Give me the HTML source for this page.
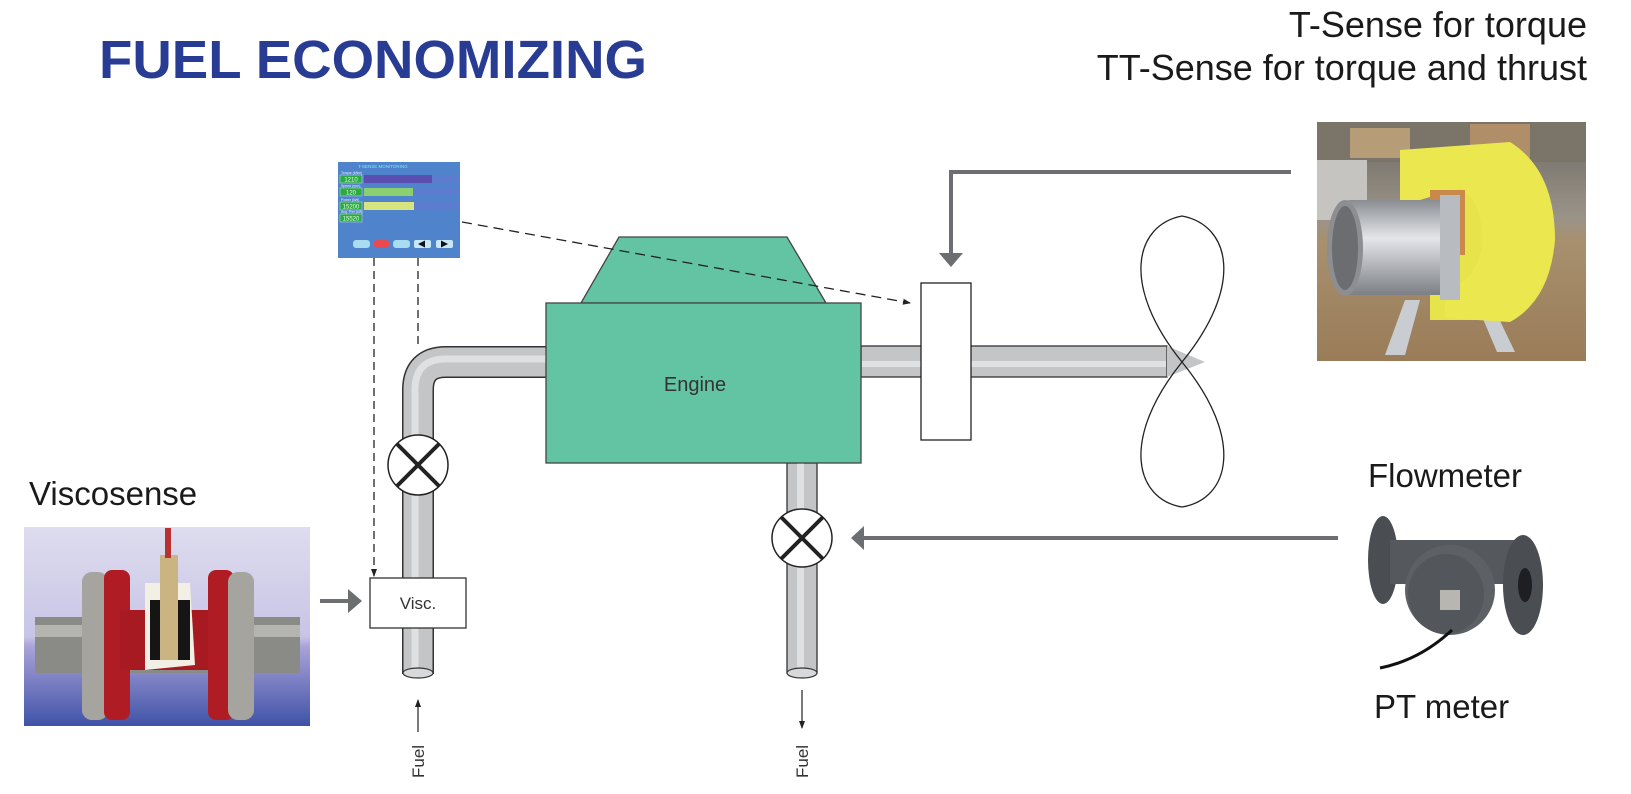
<!DOCTYPE html>
<html><head><meta charset="utf-8"><style>
html,body{margin:0;padding:0;background:#fff;}
svg{display:block;}
text{font-family:"Liberation Sans",sans-serif;}
</style></head><body>
<svg width="1631" height="794" viewBox="0 0 1631 794" xmlns="http://www.w3.org/2000/svg">
<defs>
<linearGradient id="vbg" x1="0" y1="0" x2="0" y2="1">
<stop offset="0" stop-color="#dedcee"/><stop offset="0.55" stop-color="#c8c4e6"/><stop offset="0.6" stop-color="#a9a3d8"/><stop offset="1" stop-color="#3f52a8"/></linearGradient>
<linearGradient id="tbg" x1="0" y1="0" x2="0" y2="1">
<stop offset="0" stop-color="#6d6a62"/><stop offset="0.4" stop-color="#9a9388"/><stop offset="0.5" stop-color="#a8906e"/><stop offset="1" stop-color="#9a7c58"/></linearGradient>
<linearGradient id="cyl" x1="0" y1="0" x2="0" y2="1">
<stop offset="0" stop-color="#8a8d92"/><stop offset="0.4" stop-color="#e4e6ea"/><stop offset="1" stop-color="#7c7f84"/></linearGradient>
<marker id="ah" markerWidth="8" markerHeight="8" refX="7" refY="4" orient="auto" markerUnits="userSpaceOnUse"><path d="M0,1 L8,4 L0,7 Z" fill="#222"/></marker>
</defs>

<!-- Title -->
<text x="99" y="78" font-size="54" font-weight="bold" fill="#283c94" textLength="548" lengthAdjust="spacingAndGlyphs">FUEL ECONOMIZING</text>

<!-- T-Sense text -->
<text x="1587" y="37" font-size="36" fill="#1a1a1a" text-anchor="end">T-Sense for torque</text>
<text x="1587" y="80" font-size="36" fill="#1a1a1a" text-anchor="end">TT-Sense for torque and thrust</text>

<!-- T-Sense photo -->
<rect x="1317" y="122" width="269" height="239" fill="url(#tbg)"/>
<rect x="1317" y="122" width="269" height="40" fill="#7b7468"/>
<rect x="1350" y="128" width="60" height="30" fill="#b79c78"/>
<rect x="1470" y="124" width="60" height="34" fill="#b08e68"/>
<rect x="1317" y="160" width="50" height="60" fill="#c6c4c0"/>
<polygon points="1475,300 1490,300 1515,352 1497,352" fill="#c9ccd0"/>
<polygon points="1405,300 1420,300 1405,355 1385,355" fill="#c9ccd0"/>
<path d="M1515,160 Q1555,190 1550,250 Q1545,300 1510,320 L1430,320 L1430,270 Q1460,260 1462,230 Q1462,200 1440,190 L1520,180 Z" fill="#e7e34a"/>
<path d="M1400,150 L1510,142 Q1555,170 1555,240 Q1550,300 1510,322 L1445,318 L1445,290 Q1480,280 1482,240 Q1482,200 1460,188 L1420,200 L1410,240 L1400,270 Z" fill="#ebe84f"/>
<rect x="1430" y="190" width="35" height="65" fill="#c8894a"/>
<rect x="1340" y="200" width="110" height="95" rx="10" fill="url(#cyl)"/>
<ellipse cx="1345" cy="248" rx="18" ry="48" fill="#8c8e92"/>
<ellipse cx="1345" cy="248" rx="13" ry="42" fill="#6b6d70"/>
<rect x="1440" y="195" width="20" height="105" fill="#b8bbc0"/>

<!-- Monitor -->
<rect x="338" y="162" width="122" height="96" fill="#4f84cc"/>
<text x="358" y="168" font-size="4.5" fill="#6cf0e6">T-SENSE MONITORING</text>
<text x="341" y="174" font-size="3.5" fill="#e8f0ff">Torque (kNm)</text>
<rect x="340" y="175" width="22" height="8" fill="#2eaa44" stroke="#cde" stroke-width="0.5"/>
<text x="351" y="181.5" font-size="6" fill="#dfffdf" text-anchor="middle">1210</text>
<rect x="364" y="175" width="96" height="8" fill="#5c7cd0"/><rect x="364" y="175" width="68" height="8" fill="#5a4fb0"/>
<text x="341" y="187" font-size="3.5" fill="#e8f0ff">Speed (rpm)</text>
<rect x="340" y="188" width="22" height="8" fill="#2eaa44" stroke="#cde" stroke-width="0.5"/>
<text x="351" y="194.5" font-size="6" fill="#dfffdf" text-anchor="middle">120</text>
<rect x="364" y="188" width="96" height="8" fill="#5c7cd0"/><rect x="364" y="188" width="49" height="8" fill="#8ad070"/>
<text x="341" y="201" font-size="3.5" fill="#e8f0ff">Power (kW)</text>
<rect x="340" y="202" width="22" height="8" fill="#2eaa44" stroke="#cde" stroke-width="0.5"/>
<text x="351" y="208.5" font-size="6" fill="#dfffdf" text-anchor="middle">15200</text>
<rect x="364" y="202" width="96" height="8" fill="#5c7cd0"/><rect x="364" y="202" width="50" height="8" fill="#d8e480"/>
<text x="341" y="213" font-size="3.5" fill="#e8f0ff">Avg. Pwr (kW)</text>
<rect x="340" y="214" width="22" height="8" fill="#2eaa44" stroke="#cde" stroke-width="0.5"/>
<text x="351" y="220.5" font-size="6" fill="#dfffdf" text-anchor="middle">15520</text>
<rect x="353" y="240" width="17" height="8" rx="3" fill="#a8dcee"/>
<rect x="374" y="240" width="15" height="8" rx="3" fill="#e84a50"/>
<rect x="393" y="240" width="17" height="8" rx="3" fill="#a8dcee"/>
<rect x="414" y="240" width="17" height="8" rx="2" fill="#c8e8f4"/><path d="M418,244 L425,240.5 L425,247.5 Z" fill="#111"/>
<rect x="436" y="240" width="17" height="8" rx="2" fill="#c8e8f4"/><path d="M448,244 L441,240.5 L441,247.5 Z" fill="#111"/>

<!-- Dashed lines -->
<line x1="374" y1="258" x2="374" y2="576" stroke="#222" stroke-width="1.3" stroke-dasharray="8,5" marker-end="url(#ah)"/>
<line x1="418" y1="258" x2="418" y2="347" stroke="#222" stroke-width="1.3" stroke-dasharray="8,5"/>

<!-- Left pipe -->
<path d="M418,674 V390 Q418,362 446,362 H550" fill="none" stroke="#333" stroke-width="32"/>
<path d="M418,674 V390 Q418,362 446,362 H550" fill="none" stroke="#c4c5c7" stroke-width="29"/>
<path d="M415,674 V390 Q415,359 446,359 H550" fill="none" stroke="#dfe0e1" stroke-width="7"/>
<ellipse cx="418" cy="673" rx="15" ry="5" fill="#d8d9da" stroke="#333" stroke-width="1.2"/>

<!-- Lower pipe -->
<rect x="787" y="463" width="30" height="210" fill="#c4c5c7" stroke="#333" stroke-width="1.3"/>
<rect x="797" y="463" width="7" height="210" fill="#dfe0e1"/>
<ellipse cx="802" cy="673" rx="15" ry="5" fill="#d8d9da" stroke="#333" stroke-width="1.2"/>

<!-- Shaft -->
<rect x="861" y="346" width="306" height="31" fill="#c4c5c7" stroke="#333" stroke-width="1.3"/>
<rect x="862" y="361" width="304" height="6" fill="#e0e1e2"/>
<polygon points="1167,346 1205,362 1167,377" fill="#c4c5c7"/>

<!-- Propeller -->
<path d="M1182,362 C1120,285 1135,225 1182,216 C1230,225 1245,285 1182,362 Z" fill="none" stroke="#222" stroke-width="1.3"/>
<path d="M1182,362 C1120,439 1135,499 1182,507 C1230,499 1245,439 1182,362 Z" fill="none" stroke="#222" stroke-width="1.3"/>

<!-- Engine -->
<polygon points="619,237 787,237 826,303 581,303" fill="#62c4a3" stroke="#444" stroke-width="1.3"/>
<rect x="546" y="303" width="315" height="160" fill="#62c4a3" stroke="#444" stroke-width="1.3"/>
<text x="695" y="391" font-size="20" fill="#333" text-anchor="middle" font-weight="300">Engine</text>

<!-- diagonal dashed -->
<line x1="462" y1="222" x2="910" y2="303" stroke="#222" stroke-width="1.3" stroke-dasharray="10,6" marker-end="url(#ah)"/>

<!-- Sensor box -->
<rect x="921" y="283" width="50" height="157" fill="#fff" stroke="#222" stroke-width="1.3"/>

<!-- Gray arrow to sensor -->
<polyline points="1291,172 951,172 951,254" fill="none" stroke="#6d6e71" stroke-width="4"/>
<polygon points="939,253 963,253 951,267" fill="#6d6e71"/>

<!-- Valves -->
<g stroke="#222">
<circle cx="418" cy="465" r="30" fill="#fff" stroke-width="1.5"/>
<line x1="397" y1="444" x2="439" y2="486" stroke-width="4"/><line x1="439" y1="444" x2="397" y2="486" stroke-width="4"/>
<ellipse cx="802" cy="538" rx="30" ry="29" fill="#fff" stroke-width="1.5"/>
<line x1="781" y1="517" x2="823" y2="559" stroke-width="4"/><line x1="823" y1="517" x2="781" y2="559" stroke-width="4"/>
</g>

<!-- Flowmeter arrow -->
<line x1="1338" y1="538" x2="862" y2="538" stroke="#6d6e71" stroke-width="4"/>
<polygon points="851,538 864,526 864,550" fill="#6d6e71"/>

<!-- Visc box -->
<rect x="370" y="578" width="96" height="50" fill="#fff" stroke="#333" stroke-width="1.3"/>
<text x="418" y="609" font-size="17" fill="#333" text-anchor="middle">Visc.</text>
<line x1="320" y1="601" x2="350" y2="601" stroke="#6d6e71" stroke-width="4"/>
<polygon points="348,589 362,601 348,613" fill="#6d6e71"/>

<!-- Fuel arrows -->
<line x1="418" y1="732" x2="418" y2="700" stroke="#222" stroke-width="1.2" marker-end="url(#ah)"/>
<text transform="translate(424,778) rotate(-90)" font-size="17" fill="#333">Fuel</text>
<line x1="802" y1="690" x2="802" y2="728" stroke="#222" stroke-width="1.2" marker-end="url(#ah)"/>
<text transform="translate(808,778) rotate(-90)" font-size="17" fill="#333">Fuel</text>

<!-- Viscosense -->
<text x="29" y="505" font-size="33" fill="#1a1a1a">Viscosense</text>
<rect x="24" y="527" width="286" height="199" fill="url(#vbg)"/>
<rect x="35" y="617" width="265" height="56" fill="#8a8a86"/>
<rect x="35" y="625" width="265" height="12" fill="#b5b5b0"/>
<rect x="82" y="572" width="26" height="148" rx="10" fill="#a5a49e"/>
<rect x="104" y="570" width="26" height="150" rx="8" fill="#b01c24"/>
<rect x="120" y="610" width="95" height="60" fill="#a81a22"/>
<rect x="208" y="570" width="26" height="150" rx="8" fill="#b01c24"/>
<rect x="228" y="572" width="26" height="148" rx="10" fill="#a5a49e"/>
<path d="M145,583 L190,583 L195,665 L145,670 Z" fill="#f2efe4"/>
<rect x="150" y="600" width="40" height="60" fill="#151515"/>
<rect x="160" y="555" width="18" height="105" fill="#c9b482"/>
<rect x="165" y="528" width="6" height="30" fill="#b83030"/>

<!-- Flowmeter -->
<text x="1368" y="487" font-size="33" fill="#1a1a1a">Flowmeter</text>
<ellipse cx="1383" cy="560" rx="15" ry="44" fill="#4a4d52"/>
<rect x="1390" y="540" width="130" height="44" fill="#55595e"/>
<ellipse cx="1523" cy="585" rx="20" ry="50" fill="#4a4d52"/>
<ellipse cx="1525" cy="585" rx="7" ry="17" fill="#1e1f22"/>
<ellipse cx="1450" cy="590" rx="45" ry="45" fill="#5d6166"/>
<ellipse cx="1446" cy="594" rx="38" ry="40" fill="#53575c"/>
<rect x="1440" y="590" width="20" height="20" fill="#b8b6b0"/>
<path d="M1380,668 Q1420,660 1452,630" fill="none" stroke="#111" stroke-width="3"/>
<text x="1374" y="718" font-size="33" fill="#1a1a1a">PT meter</text>
</svg>
</body></html>
